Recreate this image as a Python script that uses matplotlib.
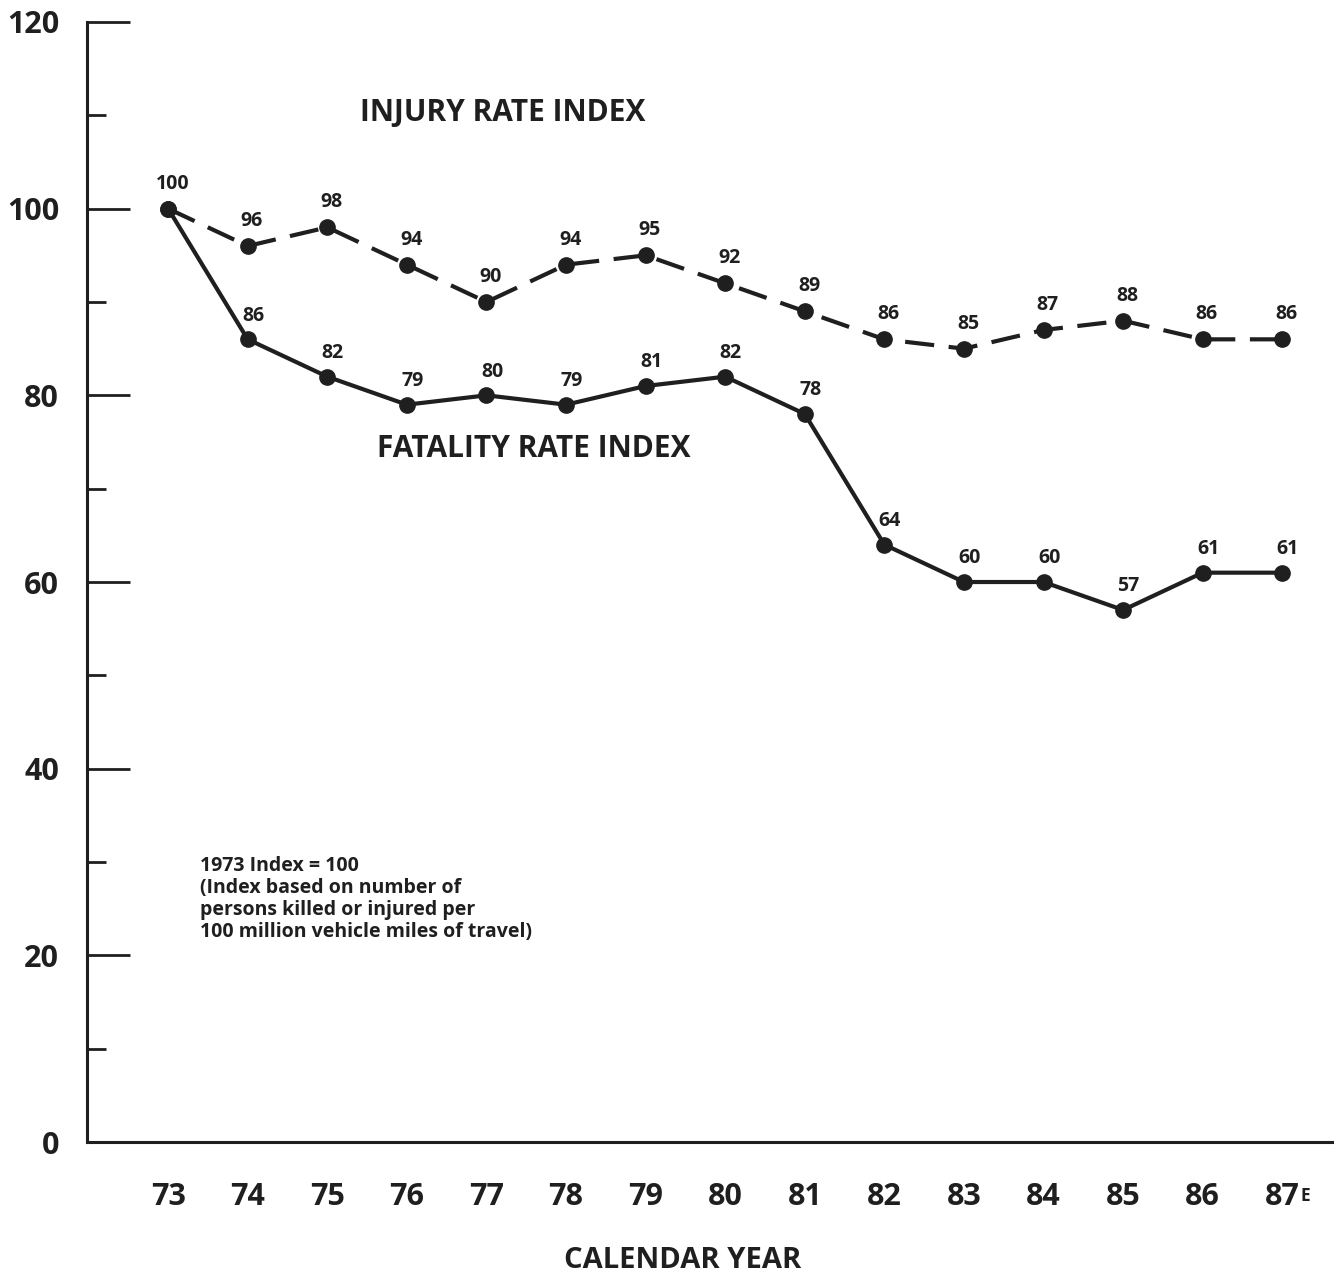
import matplotlib
matplotlib.use('Agg')
import matplotlib.pyplot as plt
from matplotlib.ticker import MultipleLocator

# ── Data ─────────────────────────────────────────────────────────────────────
years = [73, 74, 75, 76, 77, 78, 79, 80, 81, 82, 83, 84, 85, 86, 87]
year_labels = ['73', '74', '75', '76', '77', '78', '79', '80', '81', '82',
               '83', '84', '85', '86', '87']
injury = [100, 96, 98, 94, 90, 94, 95, 92, 89, 86, 85, 87, 88, 86, 86]
fatality = [100, 86, 82, 79, 80, 79, 81, 82, 78, 64, 60, 60, 57, 61, 61]

INK = '#1f1f1f'
W = 'bold'
plt.rcParams['font.family'] = ['Open Sans', 'DejaVu Sans']

fig = plt.figure(figsize=(13.34, 12.79), dpi=100)
ax = fig.add_axes([0.0652, 0.1071, 1 - 0.0652, 0.8757])

ax.plot(years, injury, color=INK, lw=3, dashes=(7, 3.5),
        marker='o', ms=11, mfc=INK, mec=INK, solid_capstyle='butt')
ax.plot(years, fatality, color=INK, lw=3,
        marker='o', ms=11, mfc=INK, mec=INK)

# value labels (1973 shared point labelled once)
for x, v in zip(years, injury):
    ax.annotate(str(v), (x, v), xytext=(3, 18), textcoords='offset points',
                ha='center', va='center', fontsize=14, weight=W, color=INK)
for x, v in zip(years[1:], fatality[1:]):
    ax.annotate(str(v), (x, v), xytext=(4, 17), textcoords='offset points',
                ha='center', va='center', fontsize=14, weight=W, color=INK)

ax.text(77.2, 110.3, 'INJURY RATE INDEX', ha='center', va='center',
        fontsize=21.5, weight=W, color=INK)
ax.text(77.6, 74.2, 'FATALITY RATE INDEX', ha='center', va='center',
        fontsize=21.5, weight=W, color=INK)
ax.text(73.4, 30.6, '1973 Index = 100\n(Index based on number of\n'
        'persons killed or injured per\n100 million vehicle miles of travel)',
        ha='left', va='top', fontsize=14, weight=W, color=INK,
        linespacing=1.12)

# axes
ax.set_xlim(71.98, 87.65)
ax.set_ylim(0, 120)
ax.spines['top'].set_visible(False)
ax.spines['right'].set_visible(False)
for s in ('left', 'bottom'):
    ax.spines[s].set_linewidth(2.2)
    ax.spines[s].set_color(INK)

ax.yaxis.set_major_locator(MultipleLocator(20))
ax.yaxis.set_minor_locator(MultipleLocator(10))
ax.tick_params(axis='y', which='major', direction='in', length=31, width=2,
               color=INK, pad=20, labelsize=22, labelcolor=INK)
ax.tick_params(axis='y', which='minor', direction='in', length=14, width=2,
               color=INK)
for lab in ax.get_yticklabels():
    lab.set_fontweight(W)

ax.set_xticks(years)
ax.set_xticklabels(year_labels, fontsize=22, weight=W, color=INK)
ax.tick_params(axis='x', length=0, pad=29)
ax.annotate('E', (87, 0), xytext=(16.5, -39), textcoords='offset points',
            ha='center', va='center', fontsize=12.5, weight=W,
            color=INK, annotation_clip=False)

fig.text(683 / 1334, 1 - 1260 / 1279, 'CALENDAR YEAR', ha='center',
         va='center', fontsize=21, weight=W, color=INK)

fig.savefig('out.png', dpi=100)
